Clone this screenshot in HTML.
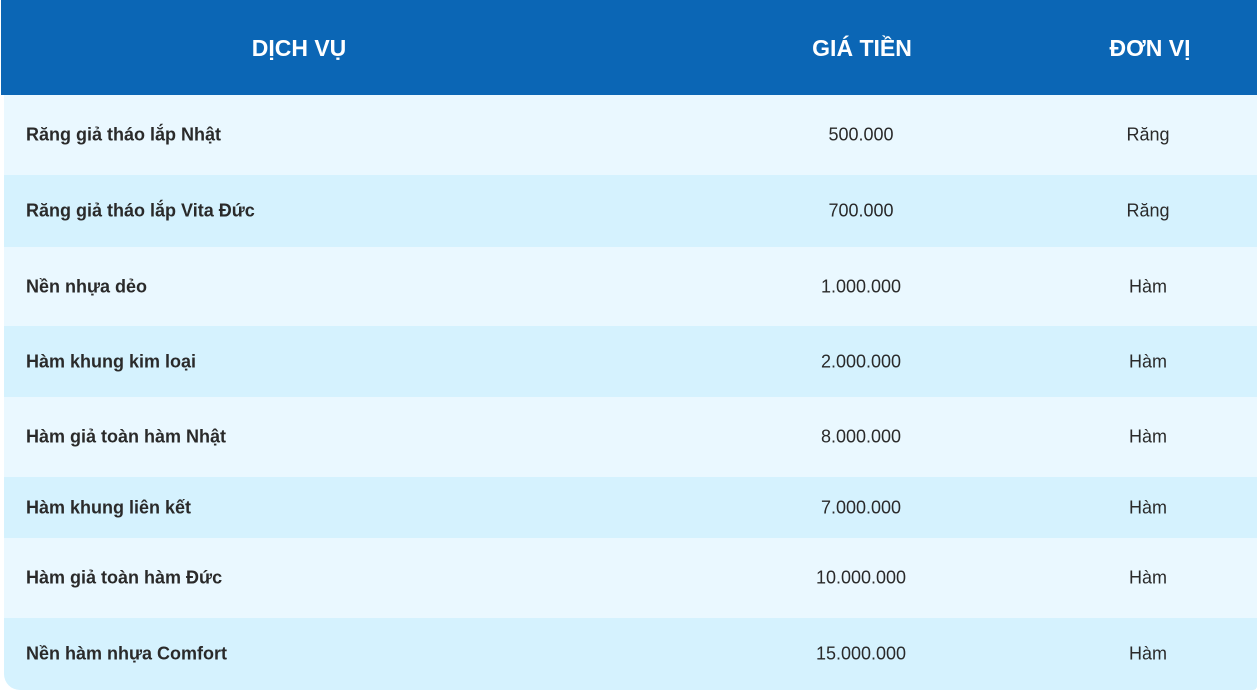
<!DOCTYPE html>
<html><head><meta charset="utf-8"><style>
body{margin:0;width:1259px;height:692px;background:#fff;font-family:"Liberation Sans",sans-serif;position:relative;overflow:hidden}
.hdr{position:absolute;left:1px;top:0;width:1256px;height:95px;background:#0b66b5}
.hdr div{position:absolute;top:0;line-height:97px;color:#fff;font-weight:bold;font-size:23px;transform:translateX(-50%);white-space:nowrap}
.body{position:absolute;left:4px;top:95px;width:1253px;height:595px;border-bottom-left-radius:16px;border-bottom-right-radius:4px;overflow:hidden}
.row{position:absolute;left:0;width:100%}
.row div{position:absolute;top:50%;transform:translateY(-50%);font-size:18px;color:#2a2a2a;white-space:nowrap}
.row .n{left:22px;font-weight:bold}
.row .p{left:857px;transform:translate(-50%,-50%)}
.row .u{left:1144px;transform:translate(-50%,-50%)}
</style></head><body>
<div class="hdr">
<div style="left:298px">DỊCH VỤ</div>
<div style="left:861px">GIÁ TIỀN</div>
<div style="left:1149px">ĐƠN VỊ</div>
</div>
<div class="body">
<div class="row" style="top:0;height:80px;background:#eaf8ff"><div class="n">Răng giả tháo lắp Nhật</div><div class="p">500.000</div><div class="u">Răng</div></div>
<div class="row" style="top:80px;height:72px;background:#d5f2fe"><div class="n">Răng giả tháo lắp Vita Đức</div><div class="p">700.000</div><div class="u">Răng</div></div>
<div class="row" style="top:152px;height:79px;background:#eaf8ff"><div class="n">Nền nhựa dẻo</div><div class="p">1.000.000</div><div class="u">Hàm</div></div>
<div class="row" style="top:231px;height:71px;background:#d5f2fe"><div class="n">Hàm khung kim loại</div><div class="p">2.000.000</div><div class="u">Hàm</div></div>
<div class="row" style="top:302px;height:80px;background:#eaf8ff"><div class="n">Hàm giả toàn hàm Nhật</div><div class="p">8.000.000</div><div class="u">Hàm</div></div>
<div class="row" style="top:382px;height:61px;background:#d5f2fe"><div class="n">Hàm khung liên kết</div><div class="p">7.000.000</div><div class="u">Hàm</div></div>
<div class="row" style="top:443px;height:80px;background:#eaf8ff"><div class="n">Hàm giả toàn hàm Đức</div><div class="p">10.000.000</div><div class="u">Hàm</div></div>
<div class="row" style="top:523px;height:72px;background:#d5f2fe"><div class="n">Nền hàm nhựa Comfort</div><div class="p">15.000.000</div><div class="u">Hàm</div></div>
</div>
</body></html>
